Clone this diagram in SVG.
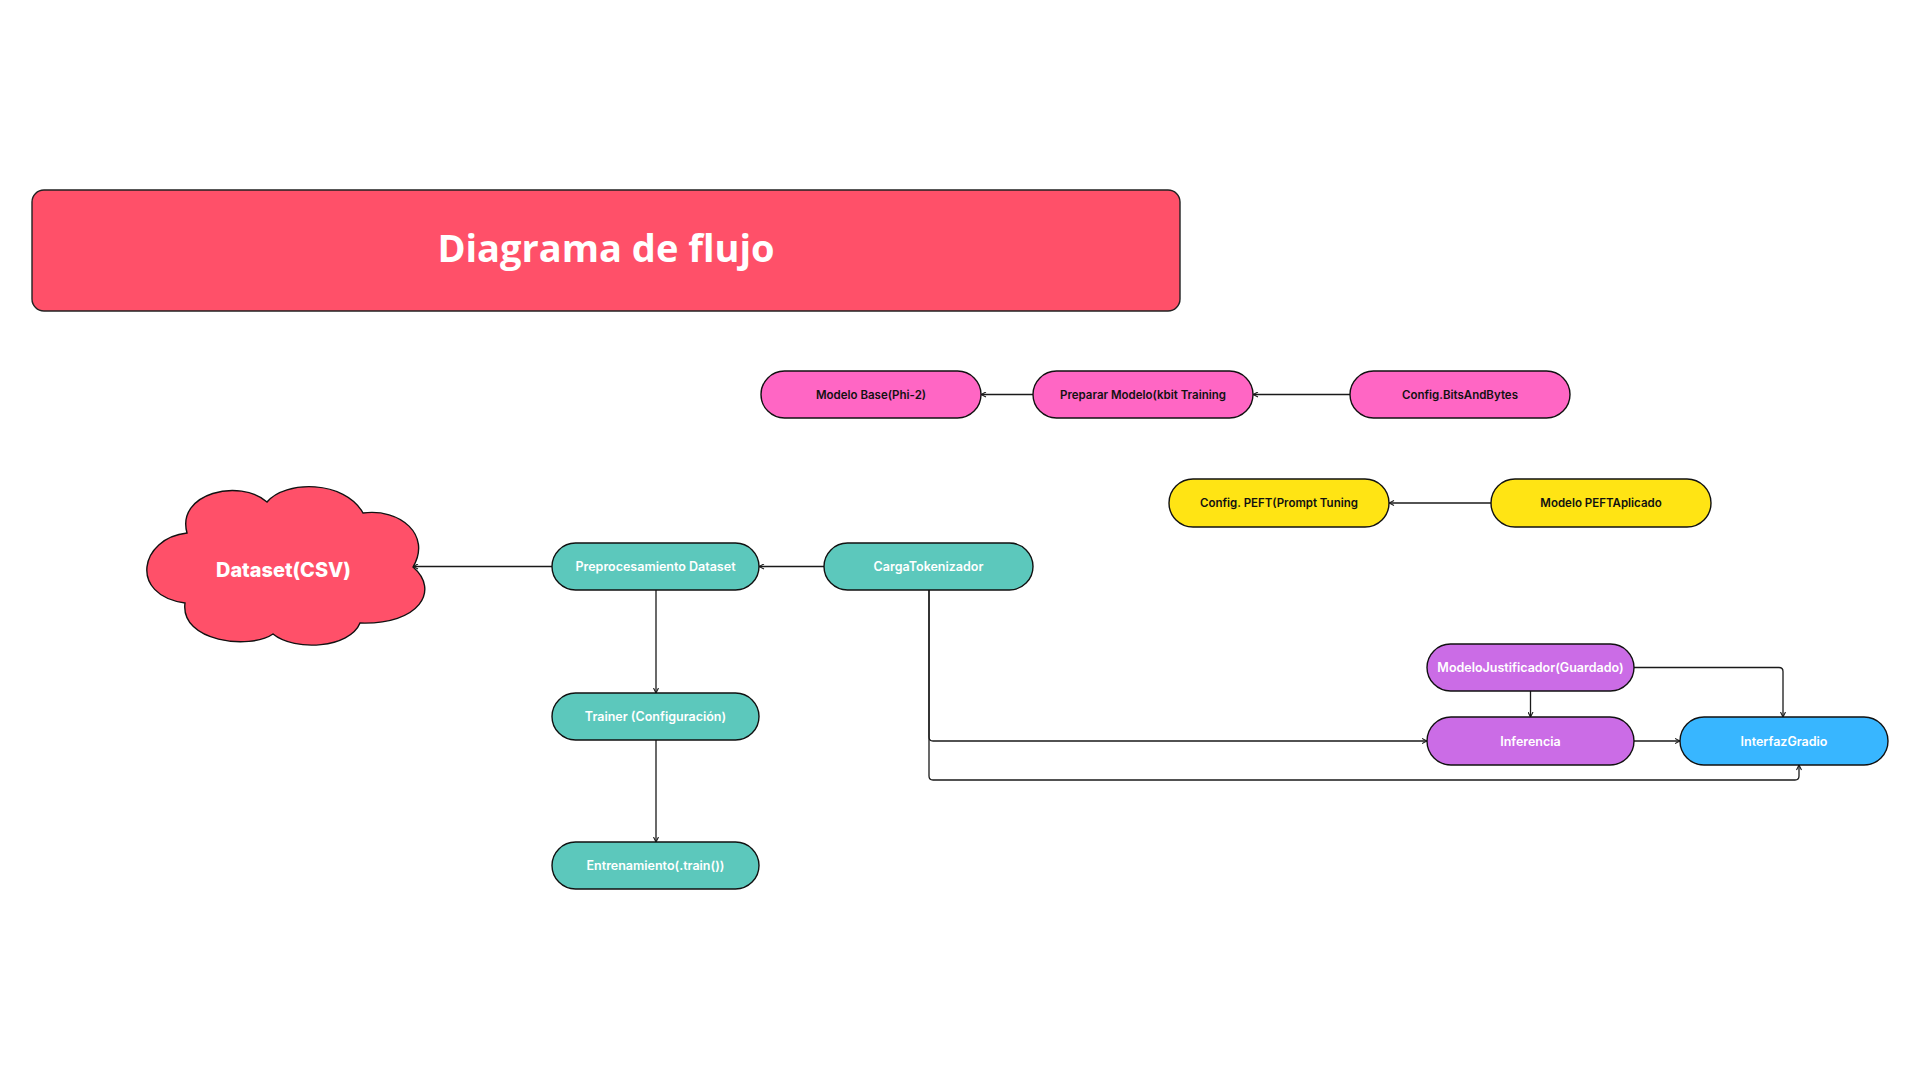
<svg xmlns="http://www.w3.org/2000/svg" width="1920" height="1080" viewBox="0 0 1920 1080">
<defs>
<marker id="arr" viewBox="0 0 6 6" refX="5.5" refY="3" markerWidth="6" markerHeight="6" markerUnits="userSpaceOnUse" orient="auto">
<path d="M0.5,0.5 L5.5,3 L0.5,5.5" fill="none" stroke="#1a1a1a" stroke-width="1.1"/>
</marker>
<style>
.node{stroke:#111;stroke-width:1.4}
.pink{fill:#FF66C4}
.yellow{fill:#FFE414}
.teal{fill:#5CC8BC}
.purple{fill:#CB6CE6}
.blue{fill:#38B6FF}
.red{fill:#FF5069}
.tb{font-family:Inter,"Liberation Sans",sans-serif;font-weight:600;font-size:11.5px;fill:#111;text-anchor:middle}
.tw{font-family:Inter,"Liberation Sans",sans-serif;font-weight:600;font-size:12.5px;fill:#fff;text-anchor:middle}
.conn path{fill:none;stroke:#1a1a1a;stroke-width:1.3;marker-end:url(#arr)}
</style>
</defs>
<rect width="1920" height="1080" fill="#fff"/>

<g id="title">
<rect x="32" y="190" width="1148" height="121" rx="12" class="red" stroke="#222" stroke-width="1.4"/>
<text x="606" y="262" font-family="'Open Sans','Liberation Sans',sans-serif" font-weight="700" font-size="38" fill="#fff" text-anchor="middle">Diagrama de flujo</text>
</g>

<g class="conn" id="connectors">
<path d="M1033,394.5 H981"/>
<path d="M1350,394.5 H1253"/>
<path d="M1491,503 H1389"/>
<path d="M824,566.5 H759"/>
<path d="M552,566.5 H413"/>
<path d="M656,590 V693"/>
<path d="M656,740 V842"/>
<path d="M929,590 V737 Q929,741 933,741 H1427"/>
<path d="M929,590 V776 Q929,780 933,780 H1795 Q1799,780 1799,776 V765"/>
<path d="M1530.5,691 V717"/>
<path d="M1634,667.5 H1779 Q1783,667.5 1783,671.5 V717"/>
<path d="M1634,741 H1680"/>
</g>

<g id="dataset">
<path class="red node" d="M187,533 C140,538 128,595 185,603 C180,642 250,650 273,634 C295,652 350,648 360,623 C420,625 440,590 413,567 C432,535 400,508 363,513 C345,480 285,480 267,502 C240,478 176,493 187,533 Z"/>
<text x="283.5" y="577" font-family="Inter,'Liberation Sans',sans-serif" font-weight="800" font-size="20" fill="#fff" text-anchor="middle" textLength="135" lengthAdjust="spacingAndGlyphs">Dataset(CSV)</text>
</g>

<g id="modelo-base">
<rect class="node pink" x="761" y="371" width="220" height="47" rx="23.5"/>
<text class="tb" x="871" y="398.5">Modelo Base(Phi-2)</text>
</g>
<g id="preparar-modelo">
<rect class="node pink" x="1033" y="371" width="220" height="47" rx="23.5"/>
<text class="tb" x="1143" y="398.5">Preparar Modelo(kbit Training</text>
</g>
<g id="config-bnb">
<rect class="node pink" x="1350" y="371" width="220" height="47" rx="23.5"/>
<text class="tb" x="1460" y="398.5">Config.BitsAndBytes</text>
</g>

<g id="config-peft">
<rect class="node yellow" x="1169" y="479" width="220" height="48" rx="24"/>
<text class="tb" x="1279" y="507">Config. PEFT(Prompt Tuning</text>
</g>
<g id="modelo-peft">
<rect class="node yellow" x="1491" y="479" width="220" height="48" rx="24"/>
<text class="tb" x="1601" y="507">Modelo PEFTAplicado</text>
</g>

<g id="preprocesamiento">
<rect class="node teal" x="552" y="543" width="207" height="47" rx="23.5"/>
<text class="tw" x="655.5" y="571">Preprocesamiento Dataset</text>
</g>
<g id="carga-tokenizador">
<rect class="node teal" x="824" y="543" width="209" height="47" rx="23.5"/>
<text class="tw" x="928.5" y="571">CargaTokenizador</text>
</g>
<g id="trainer">
<rect class="node teal" x="552" y="693" width="207" height="47" rx="23.5"/>
<text class="tw" x="655.5" y="721">Trainer (Configuración)</text>
</g>
<g id="entrenamiento">
<rect class="node teal" x="552" y="842" width="207" height="47" rx="23.5"/>
<text class="tw" x="655.5" y="870">Entrenamiento(.train())</text>
</g>

<g id="modelo-justificador">
<rect class="node purple" x="1427" y="644" width="207" height="47" rx="23.5"/>
<text class="tw" x="1530.5" y="672">ModeloJustificador(Guardado)</text>
</g>
<g id="inferencia">
<rect class="node purple" x="1427" y="717" width="207" height="48" rx="24"/>
<text class="tw" x="1530.5" y="745.5">Inferencia</text>
</g>
<g id="interfaz-gradio">
<rect class="node blue" x="1680" y="717" width="208" height="48" rx="24"/>
<text class="tw" x="1784" y="745.5">InterfazGradio</text>
</g>
</svg>
